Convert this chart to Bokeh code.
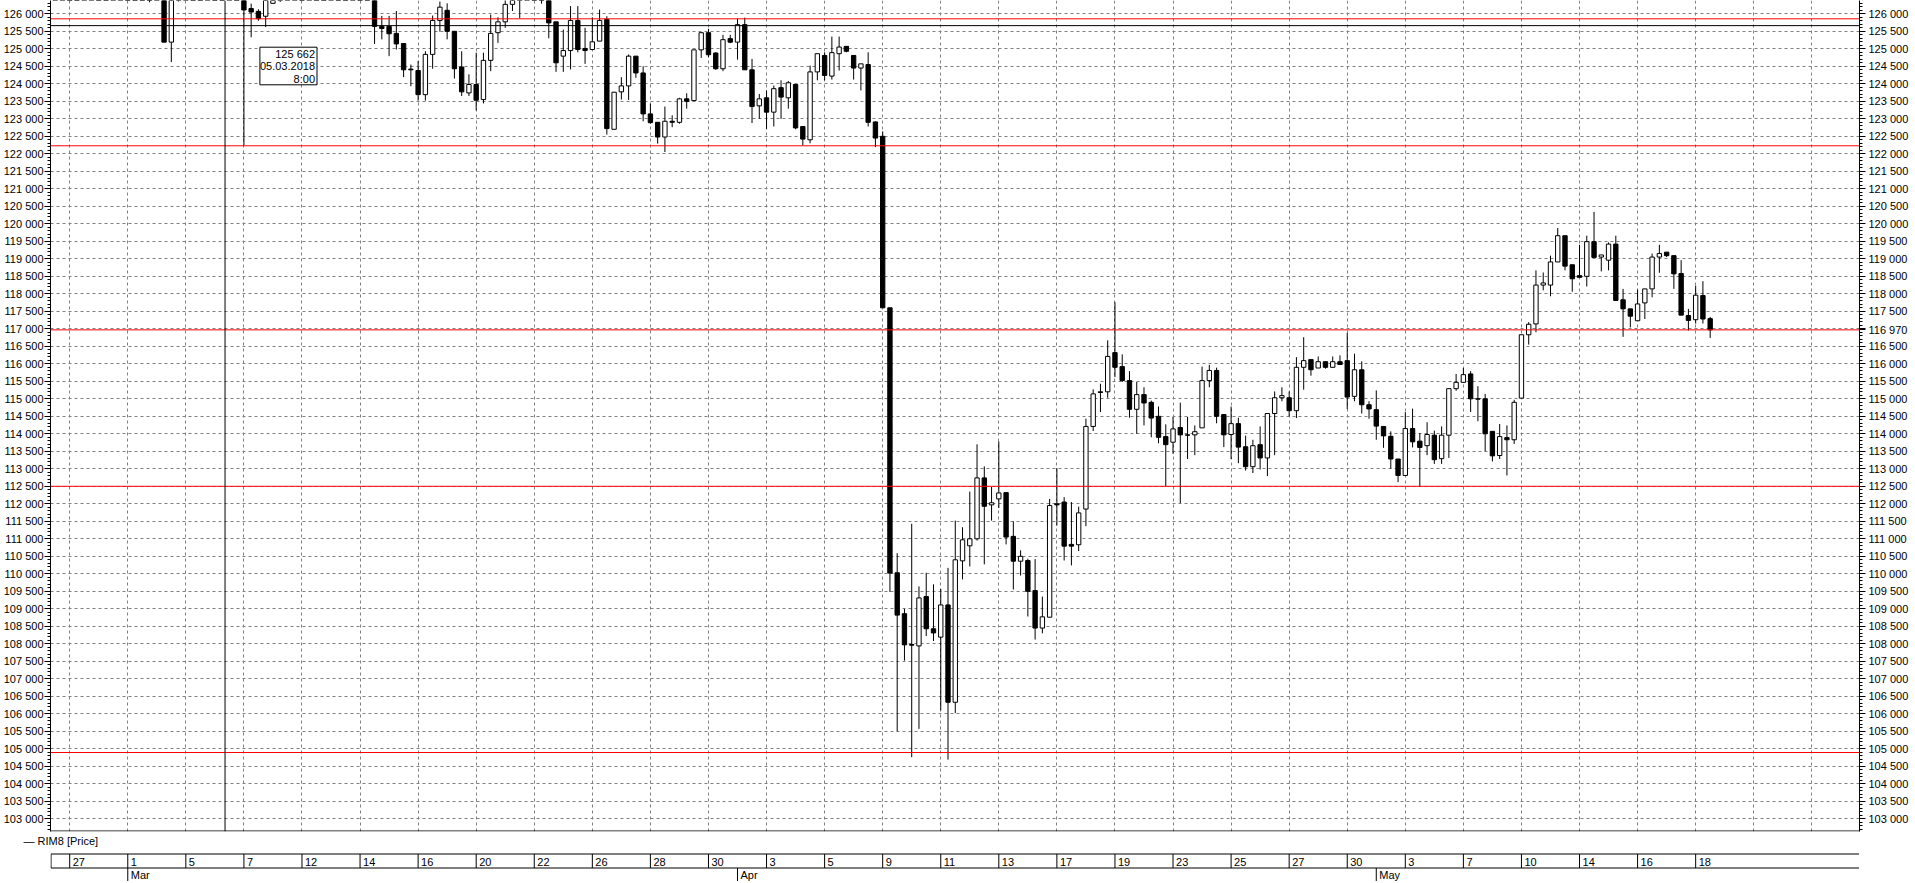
import numpy as np
from bokeh.plotting import figure
from bokeh.layouts import column
from bokeh.models import (Range1d, LinearAxis, FixedTicker, CustomJSTickFormatter,
                          Grid, Span, Title)
from bokeh.embed import file_html
from bokeh.resources import INLINE
from bokeh.core.properties import value

# ---------------- data ----------------
bar_n = list(range(-2, 227))
opens = [126800,126900,127000,126800,126700,126900,127100,126900,126700,126800,127000,126900,126750,126650,126500,126600,125190,126450,126700,126900,126800,126650,126750,126600,126550,126700,126500,126150,126070,125930,126300,126600,126750,127000,127200,127100,127300,127250,127050,127150,126950,126800,126900,126700,126600,125640,125640,125440,125150,124420,124380,123690,124840,125810,126100,125500,124480,123740,123980,123550,124670,125460,125770,126270,126500,126600,126750,126650,126500,125770,124790,124950,125810,125010,124980,125220,125840,122700,123770,123940,124790,124310,123140,122900,122480,122930,122900,123570,123520,124970,125460,124880,124430,125290,125190,125690,124400,123370,123600,123190,123890,123600,123980,122780,122400,124340,124810,124220,124860,125070,124810,124450,124550,122910,122500,117600,110030,108860,107980,107940,109350,108430,108190,109110,106330,110370,110800,111000,112740,111970,112140,112320,111070,110360,110380,109520,108450,108760,112000,112050,110840,110830,111850,114210,115200,115200,116320,115920,115520,114700,115120,114900,114500,113920,113760,114180,113970,113970,114170,115520,115810,114550,113980,114290,113630,113060,113690,113310,114580,115030,115030,114660,115900,116120,115880,116060,115900,116060,116090,115070,115830,114830,114690,114210,113930,113280,112810,114150,113790,113660,113960,113290,113960,115290,115470,115710,115000,115000,114070,113380,113890,113830,115020,116830,117140,118250,118250,118910,119660,118830,118520,118500,119490,119050,118960,119420,117830,117570,117230,117740,118140,119050,119190,119090,118580,117380,117260,117950,117290]
highs = [127100,127200,127300,127000,127000,127200,127400,127100,126950,127100,127300,127100,127000,126900,126800,126700,126500,126800,127000,127150,127000,126900,127000,126850,126800,126900,126600,126290,126130,126500,126800,126900,127100,127300,127500,127400,127600,127500,127300,127400,127200,127100,127150,126950,126750,125940,125940,126080,125150,124550,124650,124930,125950,126350,126300,125500,124930,124270,124890,124890,125980,125900,126500,126600,126800,126900,127000,126850,126700,125770,125550,126220,126220,125600,125900,126120,125930,123760,124190,124840,124790,124500,123430,122900,123350,123100,123600,123730,124970,125460,125570,124900,125400,125400,125860,125890,124710,123710,123810,123950,124100,124080,123980,122780,124520,124860,124900,125350,125350,125070,124810,124570,124900,122930,122640,117600,110590,109000,111430,109640,110030,109700,109570,110170,111520,111330,112350,113700,113070,112480,113780,112320,111500,110670,110430,110420,109350,112140,113020,112190,112050,111920,114430,115270,115430,116670,117760,116270,115790,115480,115330,114950,114780,114270,114480,114890,114480,114240,115920,115970,115890,114550,114780,114460,113950,113830,114210,114580,115210,115330,115210,116190,116760,116120,116210,116060,116210,116240,116880,116290,116070,114930,115240,114210,114070,113280,114620,114720,114020,114330,114090,114210,115290,115710,115880,115790,115360,115140,114070,114280,114240,114970,116830,117190,118670,118610,119090,119880,119660,118830,119400,119660,120340,119110,119470,119660,118140,117570,118120,118140,119150,119400,119190,119090,118960,117570,118230,118360,117340]
lows = [126500,126600,126700,126500,126450,126600,126800,126550,126450,126500,126700,126600,126500,126330,126420,125190,124620,126350,126450,126600,126500,126420,126500,126430,126400,126450,122240,125330,125800,125620,126300,126340,126500,126700,126900,126850,127000,126900,126750,126850,126600,126550,126600,126450,125140,125270,124790,124980,124190,123930,123520,123520,124430,125490,125270,124150,123650,123650,123240,123440,124360,125170,125600,126080,125870,126450,126500,126290,125300,124340,124340,124410,124900,124570,124980,125220,122550,122700,123550,123540,124170,122930,122860,122290,122050,122760,122860,123290,123520,124740,124760,124400,124360,125160,124690,124400,122880,123000,122710,122780,123000,123290,122700,122240,122300,124100,124100,124120,124380,124900,124120,123810,122780,122190,117600,109480,105500,107520,104760,105570,108220,108080,106100,104690,106020,109840,110210,110950,110270,111520,111880,110840,109550,109950,108780,108120,108300,108760,111380,110380,110240,110650,111360,114080,114620,115030,115620,115480,114460,114000,114240,113900,113730,112500,113430,112020,113280,113390,114170,115330,114300,113620,113280,113160,112950,112880,112980,112790,113390,114930,114500,114450,115260,115660,115880,115860,115900,115980,114710,114930,114580,114430,113830,113600,113000,112620,112810,113610,112480,113390,113140,113140,113310,115230,115470,114620,114360,113500,113210,113280,112810,113710,115020,116550,116900,118100,117930,118910,118670,118060,118470,118210,119040,118640,118670,117810,116770,117040,117230,117280,117900,118600,119050,118140,117390,116950,117150,117150,116740]
closes = [126900,127000,126800,126700,126900,127100,126900,126700,126800,127000,126900,126750,126650,126500,126600,125190,126450,126700,126900,126800,126650,126750,126600,126550,126700,126500,126110,126050,125860,126420,126600,126750,127000,127200,127100,127300,127250,127050,127150,126950,126800,126900,126700,126600,125640,125580,125430,125140,124400,124400,123690,124840,125810,126190,125500,124430,123770,123980,123530,124670,125440,125770,126270,126500,126600,126750,126650,126500,125740,124600,124950,125810,124980,124950,125200,125810,122720,123760,123940,124790,124310,123140,122890,122480,122930,122900,123570,123500,124970,125460,124830,124430,125260,125190,125690,124400,123350,123570,123190,123860,123620,124030,122740,122420,124340,124860,124240,124890,125050,124930,124450,124570,122900,122450,117600,110020,108820,107970,107960,109310,108430,108310,109110,106330,110400,110970,111000,112740,111930,112030,112310,111050,110360,110500,109500,108450,108770,111950,111970,110790,110790,111740,114210,115140,115180,116210,115900,115520,114700,115120,114880,114450,113900,113690,114140,113970,113960,114060,115520,115810,114500,113970,114290,113620,113060,113660,113310,114580,115030,115090,114660,115900,116090,115830,116060,115900,116060,115980,115050,115830,114830,114710,114220,113940,113280,112810,114150,113770,113610,113980,113260,113960,115290,115470,115690,115000,114990,114000,113370,113920,113830,114900,116830,117130,118250,118310,118910,119660,118790,118430,118470,119490,119040,119110,119420,117810,117570,117360,117710,118140,119050,119150,119090,118570,117390,117240,117960,117280,116970]

red_levels = [125857, 122229, 116970, 112500, 104894]
last_price = 116970
cursor_bar = 21.4
cursor_price = 125662
cursor_lines = ["125 662", "05.03.2018", "8:00"]
series_name = "RIM8 [Price]"
day_labels = ["27", "1", "5", "7", "12", "14", "16", "20", "22", "26", "28", "30", "3", "5", "9",
              "11", "13", "17", "19", "23", "25", "27", "30", "3", "7", "10", "14", "16", "18"]
month_labels = ["Mar", "Apr", "May"]
month_bars = [8, 92, 180]
price_ticks = list(range(103000, 126001, 500))
minor_price_ticks = list(range(102700, 126301, 100))

# ---------------- layout helpers (pixels -> bar units / price) ----------------
FONT = "Liberation Sans"
BARS_PER_CELL = 8
CELL_PX = 58.07
BAR_PX = CELL_PX / BARS_PER_CELL
GRID0_PX = 68.2
FRAME_L, FRAME_R = 49, 1858
FRAME_H = 831
PX_PER_PRICE = 0.035
REF_PRICE, REF_PX = 126000, 13.3


def px_to_bar(px):
    return (px - GRID0_PX) / BAR_PX


def px_to_price(py):
    return REF_PRICE - (py - REF_PX) / PX_PER_PRICE


x_rng = Range1d(px_to_bar(FRAME_L), px_to_bar(FRAME_R))
p = figure(frame_width=FRAME_R - FRAME_L, frame_height=FRAME_H,
           output_backend="svg", toolbar_location=None,
           x_range=x_rng, y_range=Range1d(px_to_price(FRAME_H), px_to_price(0)),
           x_axis_location=None, y_axis_location=None,
           min_border_left=FRAME_L, min_border_right=1915 - FRAME_R,
           min_border_top=0, min_border_bottom=0)
p.grid.visible = False
p.outline_line_color = None
p.background_fill_color = "white"
p.border_fill_color = "white"

fmt = CustomJSTickFormatter(code=r"return Math.round(tick).toString().replace(/\B(?=(\d{3})+(?!\d))/g, ' ');")
common = dict(formatter=fmt, major_tick_in=0, major_tick_out=6, minor_tick_in=0, minor_tick_out=3,
              major_label_text_font=FONT, major_label_text_font_size="11px",
              major_label_text_color="black", axis_line_color="black",
              major_tick_line_color="black", minor_tick_line_color="black")
left_ax = LinearAxis(ticker=FixedTicker(ticks=price_ticks, minor_ticks=minor_price_ticks),
                     major_label_standoff=1, **common)
right_ax = LinearAxis(ticker=FixedTicker(ticks=price_ticks + [last_price], minor_ticks=minor_price_ticks),
                      major_label_standoff=3, **common)
right_ax.major_label_overrides = {117000: "", last_price: f"{last_price:,}".replace(",", " ")}
p.add_layout(left_ax, "left")
p.add_layout(right_ax, "right")

cell_lines = [BARS_PER_CELL * k for k in range(0, 31)]
p.add_layout(Grid(dimension=1, ticker=FixedTicker(ticks=price_ticks),
                  grid_line_color="#808080", grid_line_dash="3 3", grid_line_width=1))
p.add_layout(Grid(dimension=0, ticker=FixedTicker(ticks=cell_lines),
                  grid_line_color="#808080", grid_line_dash="3 3", grid_line_width=1))

o = np.array(opens, dtype=float)
c = np.array(closes, dtype=float)
h = np.array(highs, dtype=float)
l = np.array(lows, dtype=float)
xs = np.array(bar_n, dtype=float)
up = c >= o
dn = ~up

p.segment(x0=xs, y0=l, x1=xs, y1=h, line_color="black", line_width=1)
p.vbar(x=xs[up], top=c[up], bottom=o[up], width=0.6,
       fill_color="white", line_color="black", line_width=1)
p.vbar(x=xs[dn], top=o[dn], bottom=c[dn], width=0.6,
       fill_color="black", line_color="black", line_width=1)

for lvl in red_levels:
    p.add_layout(Span(location=lvl, dimension="width", line_color="#ff0000", line_width=1))
p.add_layout(Span(location=cursor_price, dimension="width", line_color="black", line_width=1))
p.add_layout(Span(location=cursor_bar, dimension="height", line_color="black", line_width=1))
p.add_layout(Span(location=px_to_price(FRAME_H - 0.5), dimension="width", line_color="black", line_width=1))

# cursor info box
box_l, box_r = px_to_bar(258.4), px_to_bar(315.5)
p.quad(left=[box_l], right=[box_r], top=[px_to_price(46.7)], bottom=[px_to_price(84.3)],
       fill_color="white", line_color="black", line_width=1)
p.text(x=[box_r] * 3, y=[px_to_price(yy) for yy in (53.0, 65.6, 78.2)], text=cursor_lines,
       text_align="right", text_baseline="middle", x_offset=-2,
       text_font=value(FONT), text_font_size="11px", text_color="black")

# series legend under the chart
p.add_layout(Title(text="\u2014  " + series_name, align="left", offset=22 - FRAME_L, standoff=2,
                   text_font=FONT, text_font_size="11px", text_font_style="normal",
                   text_color="black"), "below")

# ---------------- date strip ----------------
QH = 34
q = figure(frame_width=FRAME_R - FRAME_L, frame_height=QH, output_backend="svg", toolbar_location=None,
           x_range=x_rng, y_range=Range1d(QH, 0),
           x_axis_location=None, y_axis_location=None,
           min_border_left=FRAME_L, min_border_right=1915 - FRAME_R,
           min_border_top=0, min_border_bottom=0)
q.grid.visible = False
q.outline_line_color = None
q.background_fill_color = "white"
q.border_fill_color = "white"

ROW_TOP, ROW_MID = 6.5, 20.5
x_left = px_to_bar(FRAME_L + 0.5)
x_right = px_to_bar(FRAME_R - 0.5)
q.segment(x0=[x_left, x_left], y0=[ROW_TOP, ROW_MID], x1=[x_right, x_right], y1=[ROW_TOP, ROW_MID],
          line_color="black", line_width=1)
cells = [BARS_PER_CELL * k for k in range(len(day_labels))]
sep_x = [x_left] + cells
q.segment(x0=sep_x, y0=[ROW_TOP] * len(sep_x), x1=sep_x, y1=[ROW_MID] * len(sep_x),
          line_color="black", line_width=1)
q.text(x=cells, y=[(ROW_TOP + ROW_MID) / 2 + 0.5] * len(cells),
       text=day_labels, x_offset=3, text_baseline="middle", text_align="left",
       text_font=value(FONT), text_font_size="11px", text_color="black")
q.segment(x0=month_bars, y0=[ROW_MID] * 3, x1=month_bars, y1=[QH] * 3,
          line_color="black", line_width=1)
q.text(x=month_bars, y=[ROW_MID + 7] * 3, text=month_labels, x_offset=3,
       text_baseline="middle", text_align="left",
       text_font=value(FONT), text_font_size="11px", text_color="black")

layout = column(p, q, spacing=0)
open("out.html", "w").write(file_html(layout, INLINE))
